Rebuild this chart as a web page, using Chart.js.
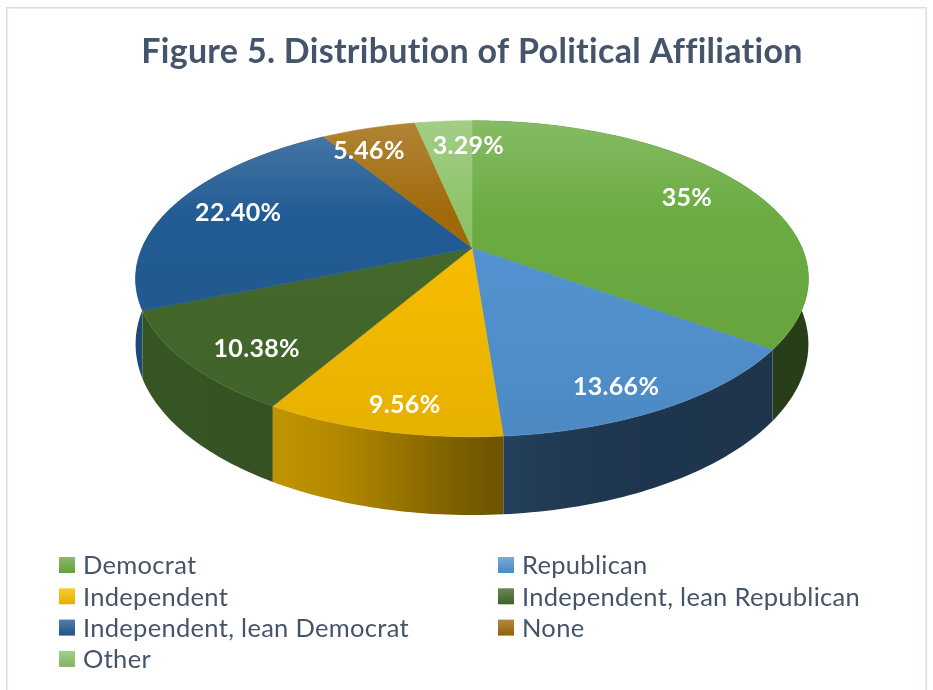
<!DOCTYPE html>
<html>
<head>
<meta charset="utf-8">
<title>Figure 5. Distribution of Political Affiliation</title>
<script src="https://cdn.jsdelivr.net/npm/chart.js@4.4.1/dist/chart.umd.min.js"></script>
<style>
  html, body { margin: 0; padding: 0; background: #fff; }
  canvas { display: block; }
</style>
</head>
<body>
<canvas id="myChart" width="933" height="690"></canvas>
<script>
const affiliations = ['Democrat', 'Republican', 'Independent', 'Independent, lean Republican', 'Independent, lean Democrat', 'None', 'Other'];
const shares = [35, 13.66, 9.56, 10.38, 22.40, 5.46, 3.29];
const sliceColors = ['#6BAC42', '#5394D3', '#F8BE00', '#45692C', '#225C94', '#A06A0A', '#8DC36A'];

const FONT = 'Lato, "Open Sans", sans-serif';
const TEXT_COLOR = '#44546A';

// tilt of the disc: horizontal / vertical stretch, wall height, perspective
const TILT = { kx: 1.964, ky: 0.905, depth: 0.375, persp: 0.195 };
const STEP = Math.PI / 180;

function rgb(hex) {
  const n = parseInt(hex.slice(1), 16);
  return [(n >> 16) & 255, (n >> 8) & 255, n & 255];
}
function shade(hex, f) {
  const c = rgb(hex).map(v => Math.round(Math.min(255, v * f)));
  return 'rgb(' + c.join(',') + ')';
}
function lighten(hex, t) {
  const c = rgb(hex).map(v => Math.round(v + (255 - v) * t));
  return 'rgb(' + c.join(',') + ')';
}

// disc point at angle/radius fraction, h = 0 top face, 1 bottom edge
function project(arc, angle, rho, h) {
  const u = Math.cos(angle) * rho;
  const v = Math.sin(angle) * rho;
  const d = 1 - TILT.persp * v;
  const R = arc.outerRadius;
  return {
    x: arc.x + R * TILT.kx * u / d,
    y: arc.y + R * (TILT.ky * v + TILT.depth * h) / d
  };
}

// light comes from the front left, right-facing wall is dark
function wallLight(angle) {
  let deg = angle * 180 / Math.PI;
  deg = ((deg % 360) + 360) % 360;
  if (deg > 180) deg -= 360;
  return 0.36 + 0.44 / (1 + Math.exp(-(deg - 98) / 8));
}

function fmt(v) {
  return (Number.isInteger(v) ? v : v.toFixed(2)) + '%';
}

function sliceSteps(arc) {
  const span = arc.endAngle - arc.startAngle;
  const n = Math.max(2, Math.ceil(span / STEP));
  const out = [];
  for (let s = 0; s <= n; s++) out.push(arc.startAngle + span * s / n);
  return out;
}

const frame = {
  id: 'frame',
  beforeDraw(chart) {
    const ctx = chart.ctx;
    ctx.save();
    ctx.fillStyle = '#fff';
    ctx.fillRect(0, 0, chart.width, chart.height);
    ctx.strokeStyle = '#D9DEE5';
    ctx.lineWidth = 1.5;
    ctx.strokeRect(6.75, 7.75, 919.5, 700);
    ctx.restore();
    // a little tracking keeps the text from forming ligatures
    ctx.letterSpacing = '0.3px';
  }
};

const pie3d = {
  id: 'pie3d',
  beforeDatasetDraw(chart, args) {
    const ctx = chart.ctx;
    const arcs = args.meta.data;
    const colors = chart.data.datasets[args.index].backgroundColor;
    ctx.save();

    // outer wall of each slice, shaded left to right
    const order = arcs.map((arc, i) => i).sort((a, b) => {
      const ma = Math.sin((arcs[a].startAngle + arcs[a].endAngle) / 2);
      const mb = Math.sin((arcs[b].startAngle + arcs[b].endAngle) / 2);
      return ma - mb;
    });
    order.forEach(i => {
      const arc = arcs[i];
      const angles = sliceSteps(arc);
      const front = angles.filter(a => Math.sin(a) > -0.35);
      if (!front.length) return;
      const xs = front.map(a => project(arc, a, 1, 0).x);
      const x0 = Math.min(...xs), x1 = Math.max(...xs);
      const g = ctx.createLinearGradient(x0, 0, x1 + 0.01, 0);
      front.forEach((a, k) => {
        const t = Math.min(1, Math.max(0, (xs[k] - x0) / (x1 - x0 + 0.01)));
        g.addColorStop(t, shade(colors[i], wallLight(a)));
      });
      ctx.beginPath();
      angles.forEach((a, k) => {
        const p = project(arc, a, 1, 0);
        if (k === 0) ctx.moveTo(p.x, p.y); else ctx.lineTo(p.x, p.y);
      });
      angles.slice().reverse().forEach(a => {
        const p = project(arc, a, 1, 1);
        ctx.lineTo(p.x, p.y);
      });
      ctx.closePath();
      ctx.fillStyle = g;
      ctx.fill();
    });

    // top face
    arcs.forEach((arc, i) => {
      const top = project(arc, -Math.PI / 2, 1, 0).y;
      const bottom = project(arc, Math.PI / 2, 1, 0).y;
      const g = ctx.createLinearGradient(0, top, 0, bottom);
      g.addColorStop(0, lighten(colors[i], 0.18));
      g.addColorStop(0.3, colors[i]);
      g.addColorStop(1, shade(colors[i], 0.93));
      const c = project(arc, 0, 0, 0);
      ctx.beginPath();
      ctx.moveTo(c.x, c.y);
      sliceSteps(arc).forEach(a => {
        const p = project(arc, a, 1, 0);
        ctx.lineTo(p.x, p.y);
      });
      ctx.closePath();
      ctx.fillStyle = g;
      ctx.strokeStyle = g;
      ctx.lineWidth = 0.6;
      ctx.fill();
      ctx.stroke();
    });

    ctx.restore();
    return false;
  }
};

const sliceLabels = {
  id: 'sliceLabels',
  afterDatasetsDraw(chart) {
    const ctx = chart.ctx;
    const meta = chart.getDatasetMeta(0);
    const values = chart.data.datasets[0].data;
    ctx.save();
    ctx.font = 'bold 25px ' + FONT;
    ctx.fillStyle = '#fff';
    ctx.textAlign = 'center';
    ctx.textBaseline = 'middle';
    const labels = meta.data.map((arc, i) => {
      const mid = (arc.startAngle + arc.endAngle) / 2;
      const p = project(arc, mid, 0.78, 0.3 * Math.max(0, Math.sin(mid)));
      const text = fmt(values[i]);
      return { text, x: p.x, y: p.y, w: ctx.measureText(text).width };
    });
    // push apart labels of thin neighbouring slices
    for (let pass = 0; pass < 3; pass++) {
      for (let i = 0; i < labels.length; i++) {
        for (let j = i + 1; j < labels.length; j++) {
          const a = labels[i].x < labels[j].x ? labels[i] : labels[j];
          const b = a === labels[i] ? labels[j] : labels[i];
          const need = (a.w + b.w) / 2 + 28;
          if (Math.abs(a.y - b.y) < 26 && b.x - a.x < need) {
            const push = (need - (b.x - a.x)) / 2;
            a.x -= push;
            b.x += push;
          }
        }
      }
    }
    labels.forEach(l => ctx.fillText(l.text, l.x, l.y));
    ctx.restore();
  }
};

// two-column legend under the pie
const splitLegend = {
  id: 'splitLegend',
  afterDraw(chart) {
    const ctx = chart.ctx;
    const colors = chart.data.datasets[0].backgroundColor;
    const cols = [59, 498];
    const rowTop = 565, rowGap = 31.3, box = 16;
    ctx.save();
    ctx.font = '25.5px ' + FONT;
    ctx.textBaseline = 'middle';
    ctx.textAlign = 'left';
    chart.data.labels.forEach((label, i) => {
      const x = cols[i % 2];
      const y = rowTop + Math.floor(i / 2) * rowGap;
      const g = ctx.createLinearGradient(0, y - box / 2, 0, y + box / 2);
      g.addColorStop(0, lighten(colors[i], 0.2));
      g.addColorStop(1, shade(colors[i], 0.92));
      ctx.fillStyle = g;
      ctx.fillRect(x, y - box / 2, box, box);
      ctx.fillStyle = TEXT_COLOR;
      ctx.fillText(label, x + 24, y + 1);
    });
    ctx.restore();
  }
};

new Chart('myChart', {
  type: 'pie',
  data: {
    labels: affiliations,
    datasets: [{
      data: shares,
      backgroundColor: sliceColors,
      borderWidth: 0,
      radius: 168
    }]
  },
  options: {
    responsive: false,
    animation: false,
    events: [],
    layout: { padding: { left: 132, right: 121, top: 0, bottom: 277 } },
    plugins: {
      legend: { display: false },
      tooltip: { enabled: false },
      title: {
        display: true,
        text: 'Figure 5. Distribution of Political Affiliation',
        color: TEXT_COLOR,
        font: { family: FONT, size: 34, weight: 'bold' },
        padding: { top: 32, bottom: 10 }
      }
    }
  },
  plugins: [frame, pie3d, sliceLabels, splitLegend]
});
</script>
</body>
</html>
